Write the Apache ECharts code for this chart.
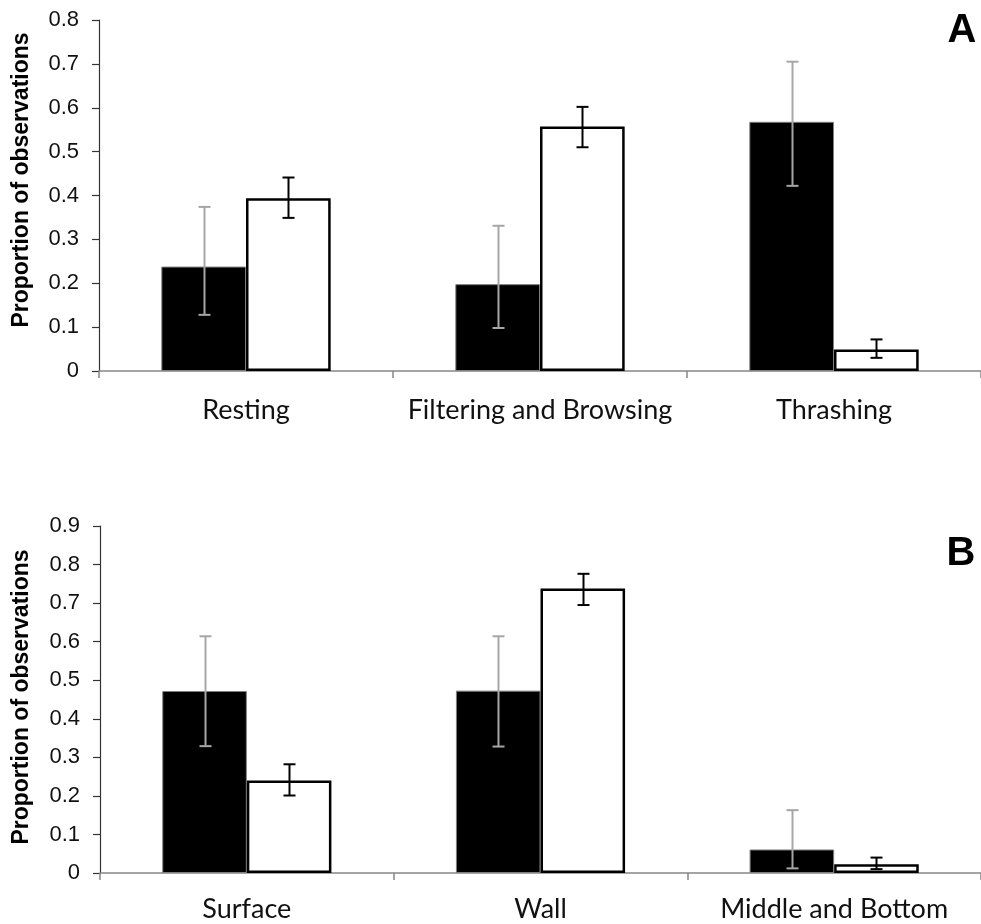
<!DOCTYPE html>
<html>
<head>
<meta charset="utf-8">
<script src="https://cdn.jsdelivr.net/npm/echarts@6/dist/echarts.min.js"></script>
<style>html,body{margin:0;padding:0;background:#fff}#c{width:981px;height:924px}</style>
</head>
<body>
<div id="c"></div>
<script>
// Panel A: behaviour
const catsA = ['Resting', 'Filtering and Browsing', 'Thrashing'];
const blackA = [0.238, 0.198, 0.568];
const blackALow = [0.128, 0.098, 0.422];
const blackAHigh = [0.374, 0.331, 0.705];
const whiteA = [0.394, 0.557, 0.049];
const whiteALow = [0.349, 0.510, 0.030];
const whiteAHigh = [0.441, 0.602, 0.072];
const ticksA = { min: 0, max: 0.8, interval: 0.1 };

// Panel B: position
const catsB = ['Surface', 'Wall', 'Middle and Bottom'];
const blackB = [0.472, 0.473, 0.061];
const blackBLow = [0.329, 0.328, 0.012];
const blackBHigh = [0.614, 0.614, 0.163];
const whiteB = [0.240, 0.738, 0.023];
const whiteBLow = [0.201, 0.695, 0.010];
const whiteBHigh = [0.282, 0.776, 0.040];
const ticksB = { min: 0, max: 0.9, interval: 0.1 };

const yTitle = 'Proportion of observations';
const BW = 0.288;

function errSeries(axisIdx, low, high, sign, color) {
  return {
    type: 'custom',
    xAxisIndex: axisIdx, yAxisIndex: axisIdx,
    z: 10,
    silent: true,
    data: low.map((l, i) => [i, l, high[i]]),
    encode: { x: 0, y: [1, 2] },
    renderItem: function (params, api) {
      const idx = api.value(0);
      const band = api.size([1, 0])[0];
      const off = sign * band * BW / 2;
      const pt = api.coord([idx, api.value(2)]);
      const pb = api.coord([idx, api.value(1)]);
      const x = Math.round(pt[0] + off) + 0.5;
      const cap = 6;
      const st = { stroke: color, lineWidth: 2 };
      return {
        type: 'group',
        children: [
          { type: 'line', shape: { x1: x, y1: pt[1], x2: x, y2: pb[1] }, style: st },
          { type: 'line', shape: { x1: x - cap, y1: pt[1], x2: x + cap, y2: pt[1] }, style: st },
          { type: 'line', shape: { x1: x - cap, y1: pb[1], x2: x + cap, y2: pb[1] }, style: st }
        ]
      };
    }
  };
}

function xAx(idx, cats, margin) {
  return {
    type: 'category', gridIndex: idx, data: cats,
    axisLine: { lineStyle: { color: '#868686', width: 1.5 } },
    axisTick: { show: true, alignWithLabel: false, interval: 0, length: 7, lineStyle: { color: '#868686', width: 1.5 } },
    axisLabel: { interval: 0, color: '#111', fontFamily: 'Lato', fontSize: 27, margin: margin }
  };
}
function yAx(idx, t) {
  return {
    type: 'value', gridIndex: idx, min: t.min, max: t.max, interval: t.interval,
    splitLine: { show: false },
    axisLine: { show: true, lineStyle: { color: '#333', width: 1.2 } },
    axisTick: { show: true, length: 7, lineStyle: { color: '#333', width: 1.2 } },
    axisLabel: {
      color: '#111', fontFamily: 'Liberation Sans', fontSize: 22, margin: 20,
      formatter: v => (v === 0 ? '0' : v.toFixed(1))
    }
  };
}

const chart = echarts.init(document.getElementById('c'), null, { renderer: 'canvas' });
chart.setOption({
  animation: false,
  backgroundColor: '#fff',
  grid: [
    { left: 99, top: 20, width: 885, height: 351 },
    { left: 100, top: 526, width: 885, height: 347 }
  ],
  xAxis: [xAx(0, catsA, 26), xAx(1, catsB, 23)],
  yAxis: [yAx(0, ticksA), yAx(1, ticksB)],
  graphic: [
    { type: 'text', x: 22, y: 180, rotation: Math.PI / 2,
      style: { text: yTitle, font: 'bold 23px "Liberation Sans"', fill: '#000', align: 'center', verticalAlign: 'middle' } },
    { type: 'text', x: 22, y: 697, rotation: Math.PI / 2,
      style: { text: yTitle, font: 'bold 23px "Liberation Sans"', fill: '#000', align: 'center', verticalAlign: 'middle' } },
    { type: 'text', x: 962, y: 31,
      style: { text: 'A', font: 'bold 40px "Liberation Sans"', fill: '#000', align: 'center', verticalAlign: 'middle' } },
    { type: 'text', x: 961, y: 554,
      style: { text: 'B', font: 'bold 40px "Liberation Sans"', fill: '#000', align: 'center', verticalAlign: 'middle' } }
  ],
  series: [
    { type: 'bar', xAxisIndex: 0, yAxisIndex: 0, data: blackA, barWidth: (BW * 100) + '%', barGap: '0%',
      itemStyle: { color: '#000', borderColor: '#7f7f7f', borderWidth: 1 } },
    { type: 'bar', xAxisIndex: 0, yAxisIndex: 0, data: whiteA, barWidth: (BW * 100) + '%', barGap: '0%',
      itemStyle: { color: '#fff', borderColor: '#000', borderWidth: 2.5 } },
    { type: 'bar', xAxisIndex: 1, yAxisIndex: 1, data: blackB, barWidth: (BW * 100) + '%', barGap: '0%',
      itemStyle: { color: '#000', borderColor: '#7f7f7f', borderWidth: 1 } },
    { type: 'bar', xAxisIndex: 1, yAxisIndex: 1, data: whiteB, barWidth: (BW * 100) + '%', barGap: '0%',
      itemStyle: { color: '#fff', borderColor: '#000', borderWidth: 2.5 } },
    errSeries(0, blackALow, blackAHigh, -1, '#a6a6a6'),
    errSeries(0, whiteALow, whiteAHigh, 1, '#000'),
    errSeries(1, blackBLow, blackBHigh, -1, '#a6a6a6'),
    errSeries(1, whiteBLow, whiteBHigh, 1, '#000')
  ]
});
</script>
</body>
</html>
